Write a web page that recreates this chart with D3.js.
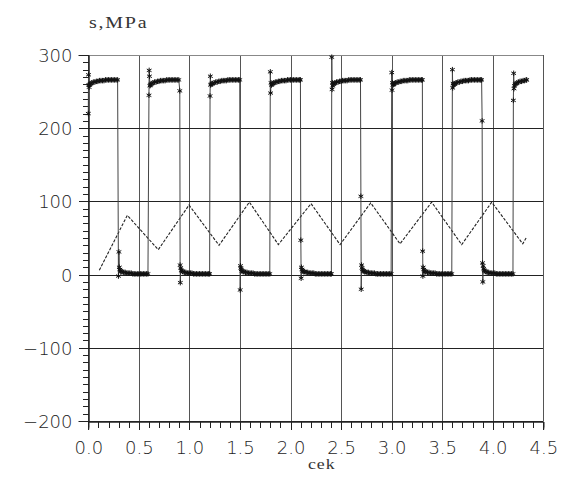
<!DOCTYPE html>
<html>
<head>
<meta charset="utf-8">
<script src="https://cdn.jsdelivr.net/npm/d3@7"></script>
<style>
  html, body { margin: 0; padding: 0; background: #fff; }
  svg { display: block; }
  text { opacity: 0.99; }
</style>
</head>
<body>
<svg id="chart" width="563" height="480"></svg>
<script>
// ---------------- data ----------------
const xTickValues = [0, 0.5, 1.0, 1.5, 2.0, 2.5, 3.0, 3.5, 4.0, 4.5];
const xTickLabels = ["0.0", "0.5", "1.0", "1.5", "2.0", "2.5", "3.0", "3.5", "4.0", "4.5"];
const yTickValues = [-200, -100, 0, 100, 200, 300];
const yTickLabels = ["\u2212200", "\u2212100", "0", "100", "200", "300"];
const yTitle = "s,MPa";
const xTitle = "cek";

// triangular (slowly varying) stress trace: [time, MPa]
const triangleSeries = [
  [0.109, 6], [0.386, 81], [0.692, 34], [0.996, 95], [1.293, 40], [1.593, 99],
  [1.880, 41], [2.203, 97], [2.490, 41], [2.793, 98], [3.083, 42], [3.396, 99],
  [3.693, 41], [3.990, 99], [4.297, 42], [4.330, 50]
];

// square-wave stress trace with "*" markers: [time, MPa]
const squareSeries = [
  [0.000,220],[0.002,273],[0.005,259],[0.008,256],[0.012,259],[0.018,260],[0.025,261],[0.035,262],[0.05,263],[0.065,263],[0.08,264],[0.095,264],[0.11,265],[0.125,265],[0.14,265],[0.155,265],[0.17,266],[0.185,266],[0.2,266],[0.215,266],[0.23,266],[0.245,266],[0.26,266],[0.275,266],[0.29,266],
  [0.298,-2],[0.303,31],[0.307,10],[0.312,7],[0.318,5],[0.325,4],[0.335,4],[0.35,3],[0.365,3],[0.38,2],[0.395,2],[0.41,2],[0.425,2],[0.44,1],[0.455,1],[0.47,1],[0.485,1],[0.5,1],[0.515,1],[0.53,1],[0.545,1],[0.56,1],[0.575,1],[0.59,1],
  [0.600,245],[0.602,279],[0.605,271],[0.609,258],[0.614,259],[0.62,260],[0.628,261],[0.64,262],[0.655,263],[0.67,263],[0.685,264],[0.70,264],[0.715,265],[0.73,265],[0.745,265],[0.76,265],[0.775,266],[0.79,266],[0.805,266],[0.82,266],[0.835,266],[0.85,266],[0.865,266],[0.88,266],[0.895,266],[0.905,251],
  [0.908,13],[0.91,-11],[0.914,9],[0.92,6],[0.927,5],[0.935,4],[0.95,3],[0.965,3],[0.98,2],[0.995,2],[1.01,2],[1.025,2],[1.04,1],[1.055,1],[1.07,1],[1.085,1],[1.10,1],[1.115,1],[1.13,1],[1.145,1],[1.16,1],[1.175,1],[1.19,1],[1.2,1],
  [1.204,244],[1.207,271],[1.21,259],[1.215,260],[1.222,261],[1.23,261],[1.245,262],[1.26,263],[1.275,263],[1.29,264],[1.305,264],[1.32,265],[1.335,265],[1.35,265],[1.365,265],[1.38,266],[1.395,266],[1.41,266],[1.425,266],[1.44,266],[1.455,266],[1.47,266],[1.485,266],[1.498,266],
  [1.502,-21],[1.505,12],[1.509,9],[1.514,7],[1.52,5],[1.53,4],[1.54,4],[1.555,3],[1.57,3],[1.585,2],[1.60,2],[1.615,2],[1.63,2],[1.645,1],[1.66,1],[1.675,1],[1.69,1],[1.705,1],[1.72,1],[1.735,1],[1.75,1],[1.765,1],[1.78,1],[1.795,1],
  [1.800,277],[1.803,248],[1.807,262],[1.812,259],[1.818,260],[1.825,261],[1.835,262],[1.85,263],[1.865,263],[1.88,264],[1.895,264],[1.91,265],[1.925,265],[1.94,265],[1.955,265],[1.97,266],[1.985,266],[2.0,266],[2.015,266],[2.03,266],[2.045,266],[2.06,266],[2.075,266],[2.09,266],[2.098,266],
  [2.102,47],[2.105,-5],[2.108,10],[2.113,7],[2.12,5],[2.13,4],[2.14,4],[2.155,3],[2.17,3],[2.185,2],[2.2,2],[2.215,2],[2.23,2],[2.245,1],[2.26,1],[2.275,1],[2.29,1],[2.305,1],[2.32,1],[2.335,1],[2.35,1],[2.365,1],[2.38,1],[2.395,1],[2.404,1],
  [2.408,297],[2.411,253],[2.414,262],[2.418,258],[2.424,260],[2.43,261],[2.44,262],[2.455,263],[2.47,263],[2.485,264],[2.5,264],[2.515,265],[2.53,265],[2.545,265],[2.56,265],[2.575,266],[2.59,266],[2.605,266],[2.62,266],[2.635,266],[2.65,266],[2.665,266],[2.68,266],[2.692,266],
  [2.696,107],[2.699,-20],[2.703,13],[2.707,9],[2.712,7],[2.72,5],[2.73,4],[2.74,4],[2.755,3],[2.77,3],[2.785,2],[2.8,2],[2.815,2],[2.83,2],[2.845,1],[2.86,1],[2.875,1],[2.89,1],[2.905,1],[2.92,1],[2.935,1],[2.95,1],[2.965,1],[2.98,1],[2.995,1],
  [3.001,276],[3.004,252],[3.008,262],[3.013,259],[3.02,260],[3.028,261],[3.04,262],[3.055,263],[3.07,263],[3.085,264],[3.1,264],[3.115,265],[3.13,265],[3.145,265],[3.16,265],[3.175,266],[3.19,266],[3.205,266],[3.22,266],[3.235,266],[3.25,266],[3.265,266],[3.28,266],[3.295,266],[3.304,266],
  [3.307,32],[3.309,-2],[3.312,10],[3.317,7],[3.323,5],[3.33,4],[3.34,4],[3.355,3],[3.37,3],[3.385,2],[3.4,2],[3.415,2],[3.43,2],[3.445,1],[3.46,1],[3.475,1],[3.49,1],[3.505,1],[3.52,1],[3.535,1],[3.55,1],[3.565,1],[3.58,1],[3.595,1],
  [3.601,280],[3.604,255],[3.608,261],[3.613,259],[3.62,260],[3.628,261],[3.64,262],[3.655,263],[3.67,263],[3.685,264],[3.7,264],[3.715,265],[3.73,265],[3.745,265],[3.76,265],[3.775,266],[3.79,266],[3.805,266],[3.82,266],[3.835,266],[3.85,266],[3.865,266],[3.88,266],[3.89,266],
  [3.895,210],[3.899,16],[3.902,-10],[3.905,12],[3.91,8],[3.916,6],[3.923,5],[3.932,4],[3.945,3],[3.96,3],[3.975,2],[3.99,2],[4.005,2],[4.02,2],[4.035,1],[4.05,1],[4.065,1],[4.08,1],[4.095,1],[4.11,1],[4.125,1],[4.14,1],[4.155,1],[4.17,1],[4.185,1],[4.2,1],
  [4.204,238],[4.207,275],[4.21,254],[4.215,258],[4.222,260],[4.23,261],[4.24,262],[4.255,263],[4.27,264],[4.285,264],[4.3,265],[4.315,265],[4.33,266],[4.336,266]
];

// ---------------- layout ----------------
const svg = d3.select("#chart");
const plotLeft = 88.3, plotRight = 543.3, plotTop = 55, plotBottom = 421;

const x = d3.scaleLinear().domain([0, 4.5]).range([plotLeft, plotRight]);
const y = d3.scaleLinear().domain([-200, 300]).range([plotBottom, plotTop]);

const labelFont = "'DejaVu Sans', sans-serif";
const serifFont = "'Liberation Serif', 'Times New Roman', serif";

// grid
const grid = svg.append("g").attr("shape-rendering", "crispEdges");
grid.selectAll("line.v").data(xTickValues).join("line")
  .attr("class", "v")
  .attr("x1", d => Math.round(x(d)) + 0.5).attr("x2", d => Math.round(x(d)) + 0.5)
  .attr("y1", plotTop).attr("y2", plotBottom)
  .attr("stroke", "#555").attr("stroke-width", 1);
grid.selectAll("line.h").data(yTickValues).join("line")
  .attr("class", "h")
  .attr("x1", plotLeft).attr("x2", plotRight)
  .attr("y1", d => Math.round(y(d)) + 0.5).attr("y2", d => Math.round(y(d)) + 0.5)
  .attr("stroke", d => d === 300 ? "#888" : "#222").attr("stroke-width", 1);

// minor tick values
const yMinor = d3.range(-200, 301, 10).filter(v => v % 100 !== 0);
const xMinor = d3.range(0, 46, 1).map(v => v / 10).filter(v => Math.abs(v * 2 - Math.round(v * 2)) > 1e-6);

// y axis
const yAxisMajor = d3.axisLeft(y).tickValues(yTickValues)
  .tickFormat((d, i) => yTickLabels[i]).tickSize(10).tickPadding(6);
const yAxisMinor = d3.axisLeft(y).tickValues(yMinor).tickFormat("").tickSize(6);
const gy = svg.append("g").attr("transform", `translate(${Math.round(plotLeft) + 0.5},0)`);
gy.call(yAxisMajor);
const gyMinor = svg.append("g").attr("transform", `translate(${Math.round(plotLeft) + 0.5},0)`);
gyMinor.call(yAxisMinor);

// x axis
const xAxisMajor = d3.axisBottom(x).tickValues(xTickValues)
  .tickFormat((d, i) => xTickLabels[i]).tickSize(8).tickPadding(12);
const xAxisMinor = d3.axisBottom(x).tickValues(xMinor).tickFormat("").tickSize(6);
const gx = svg.append("g").attr("transform", `translate(0,${Math.round(plotBottom) + 0.5})`);
gx.call(xAxisMajor);
const gxMinor = svg.append("g").attr("transform", `translate(0,${Math.round(plotBottom) + 0.5})`);
gxMinor.call(xAxisMinor);

[gy, gyMinor, gx, gxMinor].forEach(g => {
  g.select(".domain").attr("stroke", "#222");
  g.selectAll(".tick line").attr("stroke", "#222").attr("shape-rendering", "crispEdges");
  g.selectAll(".tick text")
    .attr("font-family", labelFont)
    .attr("font-weight", 200)
    .attr("font-size", 18)
    .attr("fill", "#222");
});
gy.selectAll(".tick text").attr("dy", "0.36em");

// titles (slightly widened serif, like the plotter font)
svg.append("text")
  .attr("transform", "translate(89,28) scale(1.25,1)")
  .attr("font-family", serifFont).attr("font-size", 16)
  .attr("font-weight", "normal")
  .attr("fill", "#333")
  .attr("letter-spacing", 1.4)
  .text(yTitle);
svg.append("text")
  .attr("transform", "translate(308,469) scale(1.15,1)")
  .attr("font-family", serifFont).attr("font-size", 15.5)
  .attr("font-weight", "normal")
  .attr("fill", "#333")
  .attr("letter-spacing", 0.8)
  .text(xTitle);

// data
const plot = svg.append("g");
const line = d3.line().x(d => x(d[0])).y(d => y(d[1]));

plot.append("path")
  .datum(triangleSeries)
  .attr("d", line)
  .attr("fill", "none")
  .attr("stroke", "#222")
  .attr("stroke-width", 1.1)
  .attr("stroke-dasharray", "3,1.5");

plot.append("path")
  .datum(squareSeries)
  .attr("d", line)
  .attr("fill", "none")
  .attr("stroke", "#444")
  .attr("stroke-width", 1);

const asteriskType = {
  draw(ctx, size) {
    const r = Math.sqrt(size) / 2;
    const a = r * Math.cos(Math.PI / 6), b = r * Math.sin(Math.PI / 6);
    ctx.moveTo(0, -r); ctx.lineTo(0, r);
    ctx.moveTo(-a, -b); ctx.lineTo(a, b);
    ctx.moveTo(-a, b); ctx.lineTo(a, -b);
  }
};
const sym = d3.symbol().type(asteriskType).size(30);
plot.selectAll("path.mk").data(squareSeries).join("path")
  .attr("class", "mk")
  .attr("transform", d => `translate(${x(d[0])},${y(d[1])})`)
  .attr("d", sym)
  .attr("fill", "none")
  .attr("stroke", "#111")
  .attr("stroke-width", 1);
</script>
</body>
</html>
